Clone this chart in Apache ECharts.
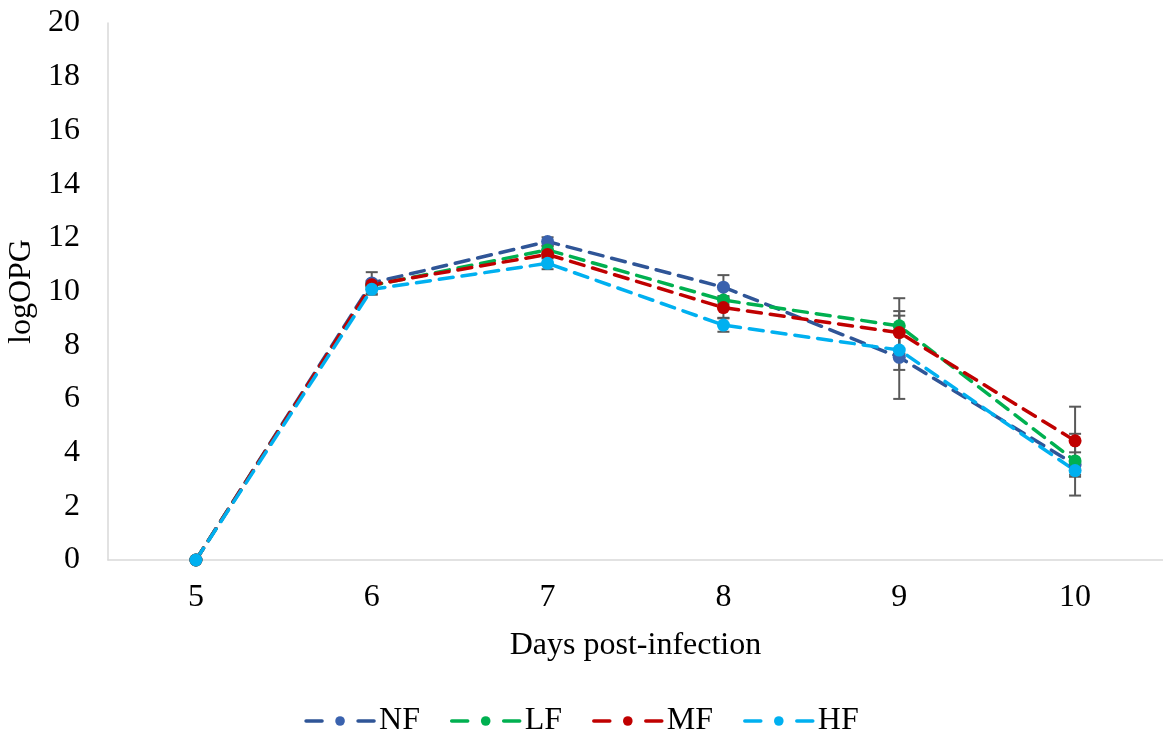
<!DOCTYPE html>
<html>
<head>
<meta charset="utf-8">
<script src="https://cdn.jsdelivr.net/npm/echarts@6/dist/echarts.min.js"></script>
<style>
  html, body { margin: 0; padding: 0; background: #fff; }
  #chart { width: 1163px; height: 731px; }
</style>
</head>
<body>
<div id="chart"></div>
<script>
// Days post-infection
const days = ['5', '6', '7', '8', '9', '10'];

// Mean logOPG per group
const nfMean = [0, 10.32, 11.86, 10.16, 7.55, 3.55];
const lfMean = [0, 10.22, 11.55, 9.68, 8.72, 3.69];
const mfMean = [0, 10.25, 11.38, 9.40, 8.47, 4.44];
const hfMean = [0, 10.08, 11.05, 8.75, 7.82, 3.33];

// Standard error per group
const nfErr = [0, 0.40, 0.16, 0.45, 1.55, 1.15];
const lfErr = [0, 0.15, 0.15, 0.15, 1.03, 0.32];
const mfErr = [0, 0.15, 0.15, 0.38, 0.80, 1.27];
const hfErr = [0, 0.20, 0.22, 0.25, 0.74, 0.23];

const yTicks = { min: 0, max: 20, interval: 2 };

const groups = [
  { name: 'NF', mean: nfMean, err: nfErr, line: '#2F5597', dot: '#3A62AE' },
  { name: 'LF', mean: lfMean, err: lfErr, line: '#00B050', dot: '#00B050' },
  { name: 'MF', mean: mfMean, err: mfErr, line: '#C00000', dot: '#C00000' },
  { name: 'HF', mean: hfMean, err: hfErr, line: '#00B0F0', dot: '#00B0F0' }
];

const font = '"Liberation Serif", "Times New Roman", serif';
const fs = 32;

const series = [];

// error bars drawn beneath the markers
groups.forEach(g => {
  const data = g.mean.map((m, i) => [i, m - g.err[i], m + g.err[i], g.err[i]]);
  series.push({
    type: 'custom',
    name: g.name + '-err',
    z: 1,
    silent: true,
    encode: { x: 0, y: [1, 2] },
    data: data,
    renderItem: function (params, api) {
      if (api.value(3) <= 0) return null;
      const x = api.value(0);
      const top = api.coord([x, api.value(2)]);
      const bot = api.coord([x, api.value(1)]);
      const cap = 6;
      const style = { stroke: '#595959', lineWidth: 2 };
      return {
        type: 'group',
        children: [
          { type: 'line', shape: { x1: top[0], y1: top[1], x2: bot[0], y2: bot[1] }, style: style },
          { type: 'line', shape: { x1: top[0] - cap, y1: top[1], x2: top[0] + cap, y2: top[1] }, style: style },
          { type: 'line', shape: { x1: bot[0] - cap, y1: bot[1], x2: bot[0] + cap, y2: bot[1] }, style: style }
        ]
      };
    }
  });
});

groups.forEach(g => {
  series.push({
    type: 'line',
    name: g.name,
    z: 3,
    data: g.mean,
    symbol: 'circle',
    symbolSize: 13,
    showAllSymbol: true,
    lineStyle: { color: g.line, width: 3.5, type: [14, 9], cap: 'round' },
    itemStyle: { color: g.dot, borderColor: g.dot, borderWidth: 0 },
    emphasis: { disabled: true },
    animation: false
  });
});

const chart = echarts.init(document.getElementById('chart'), null, { renderer: 'canvas' });
chart.setOption({
  animation: false,
  backgroundColor: '#ffffff',
  grid: { left: 108, right: 0, top: 23, bottom: 171, containLabel: false, outerBoundsMode: 'none' },
  legend: {
    data: groups.map(g => g.name),
    left: 'center',
    top: 700,
    itemWidth: 68,
    itemHeight: 12,
    itemGap: 30,
    textStyle: { fontFamily: font, fontSize: fs, color: '#000' },
    lineStyle: { type: [16, 36], width: 3.5, cap: 'round' }
  },
  xAxis: {
    type: 'category',
    data: days,
    boundaryGap: true,
    name: 'Days post-infection',
    nameLocation: 'middle',
    nameGap: 70,
    nameTextStyle: { fontFamily: font, fontSize: fs, color: '#000' },
    axisLine: { show: true, lineStyle: { color: '#d9d9d9', width: 1.5 } },
    axisTick: { show: false },
    axisLabel: { fontFamily: font, fontSize: fs, color: '#000', margin: 22 },
    splitLine: { show: false }
  },
  yAxis: {
    type: 'value',
    min: yTicks.min,
    max: yTicks.max,
    interval: yTicks.interval,
    name: 'logOPG',
    nameLocation: 'middle',
    nameGap: 64,
    nameRotate: 90,
    nameTextStyle: { fontFamily: font, fontSize: fs, color: '#000' },
    axisLine: { show: true, lineStyle: { color: '#d9d9d9', width: 1.5 } },
    axisTick: { show: false },
    axisLabel: { fontFamily: font, fontSize: fs, color: '#000', margin: 28 },
    splitLine: { show: false }
  },
  series: series
});
</script>
</body>
</html>
